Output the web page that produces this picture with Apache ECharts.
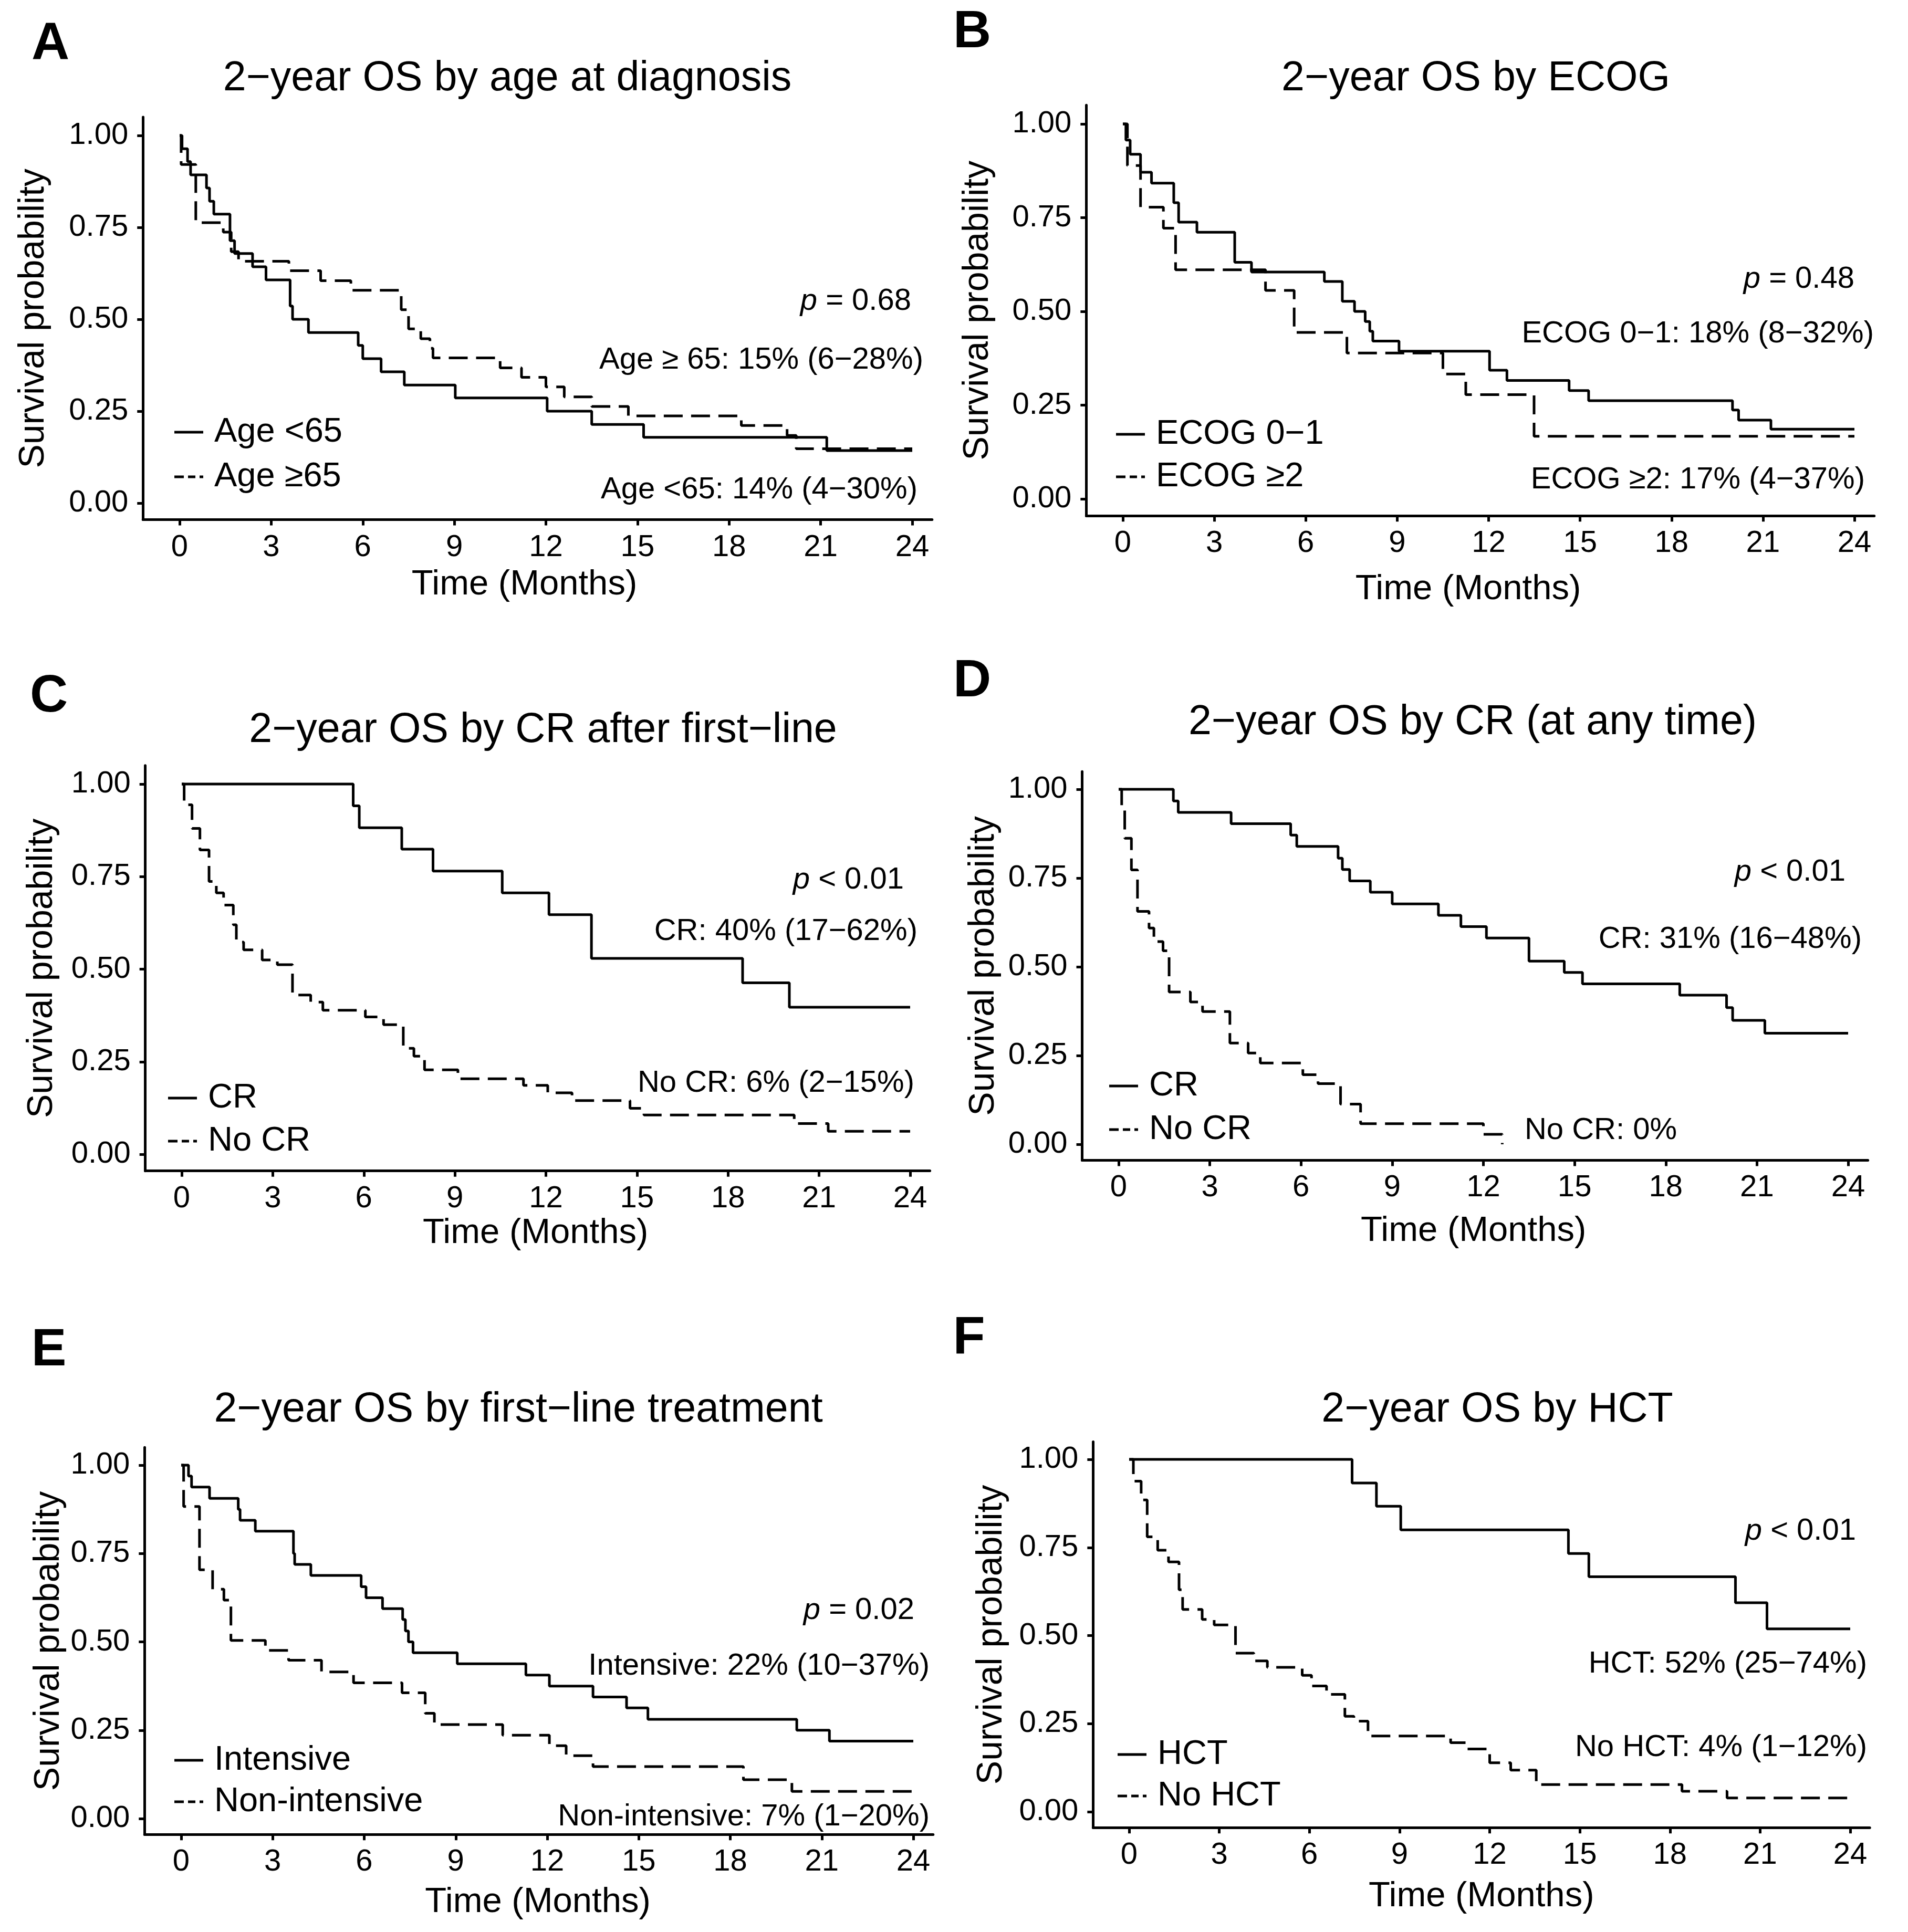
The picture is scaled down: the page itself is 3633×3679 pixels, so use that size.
<!DOCTYPE html>
<html lang="en">
<head>
    <meta charset="UTF-8">
    <title>2-year OS</title>
    <script src="https://cdn.jsdelivr.net/npm/echarts@6/dist/echarts.min.js"></script>
    <style>
        html, body { margin: 0; padding: 0; background: #fff; }
        #main { width: 3633px; height: 3679px; }
    </style>
</head>
<body>
<div id="main"></div>
<script type="text/javascript">
    // ticks
    var xTicks = [0, 3, 6, 9, 12, 15, 18, 21, 24];
    var yTicks = [0, 0.25, 0.5, 0.75, 1];

    // A - age at diagnosis
    var ageLt65Time = [0, 0.08, 0.26, 0.36, 0.88, 0.98, 1.12, 1.65, 1.8, 2.39, 2.83, 3.62, 3.7, 4.22, 5.85, 6.0, 6.6, 7.36, 9.03, 12.04, 13.5, 15.2, 21.2, 24];
    var ageLt65Surv = [1, 0.964, 0.929, 0.893, 0.857, 0.821, 0.786, 0.714, 0.679, 0.643, 0.607, 0.536, 0.5, 0.464, 0.429, 0.393, 0.357, 0.321, 0.286, 0.25, 0.214, 0.179, 0.143, 0.143];
    var ageGe65Time = [0, 0.05, 0.53, 1.43, 1.69, 1.93, 3.58, 4.62, 5.61, 7.26, 7.5, 7.9, 8.2, 8.3, 10.5, 11.2, 12.0, 12.6, 13.5, 14.7, 18.4, 19.9, 20.2, 24];
    var ageGe65Surv = [1, 0.921, 0.763, 0.737, 0.684, 0.658, 0.632, 0.605, 0.579, 0.526, 0.474, 0.447, 0.421, 0.395, 0.368, 0.342, 0.316, 0.289, 0.263, 0.237, 0.211, 0.184, 0.148, 0.148];

    // B - ECOG
    var ecog01Time = [0, 0.1, 0.24, 0.58, 0.94, 1.67, 1.83, 2.43, 3.67, 4.22, 6.61, 7.2, 7.6, 7.95, 8.1, 8.2, 9.06, 12.03, 12.6, 14.64, 15.28, 20.0, 20.2, 21.26, 24];
    var ecog01Surv = [1, 0.957, 0.919, 0.871, 0.842, 0.79, 0.738, 0.711, 0.631, 0.605, 0.58, 0.527, 0.5, 0.473, 0.447, 0.421, 0.394, 0.343, 0.316, 0.289, 0.262, 0.237, 0.21, 0.186, 0.186];
    var ecog2Time = [0, 0.15, 0.58, 1.33, 1.73, 4.68, 5.62, 7.35, 10.5, 11.25, 13.49, 24];
    var ecog2Surv = [1, 0.889, 0.778, 0.722, 0.611, 0.556, 0.444, 0.389, 0.333, 0.278, 0.167, 0.167];

    // C - CR after first-line
    var cr1Time = [0, 5.65, 5.85, 7.25, 8.28, 10.56, 12.1, 13.5, 18.48, 20.02, 24];
    var cr1Surv = [1, 0.941, 0.882, 0.824, 0.765, 0.706, 0.647, 0.529, 0.463, 0.397, 0.397];
    var noCr1Time = [0, 0.08, 0.34, 0.6, 0.9, 1.14, 1.38, 1.7, 1.8, 2.04, 2.65, 3.15, 3.65, 4.25, 4.65, 6.05, 6.65, 7.3, 7.65, 8.0, 9.1, 11.26, 12.06, 12.86, 14.77, 15.23, 20.18, 21.3, 24];
    var noCr1Surv = [1, 0.944, 0.88, 0.822, 0.737, 0.706, 0.673, 0.62, 0.573, 0.552, 0.525, 0.512, 0.43, 0.411, 0.389, 0.371, 0.35, 0.286, 0.265, 0.228, 0.204, 0.186, 0.166, 0.145, 0.124, 0.106, 0.083, 0.062, 0.062];

    // D - CR at any time
    var crAnyTime = [0, 1.8, 1.96, 3.7, 5.66, 5.86, 7.22, 7.36, 7.6, 8.28, 9.0, 10.52, 11.26, 12.1, 13.5, 14.66, 15.26, 18.46, 20.0, 20.2, 21.26, 24];
    var crAnySurv = [1, 0.967, 0.935, 0.903, 0.871, 0.839, 0.806, 0.774, 0.742, 0.71, 0.677, 0.645, 0.613, 0.581, 0.516, 0.484, 0.452, 0.42, 0.385, 0.349, 0.313, 0.313];
    var noCrAnyTime = [0, 0.1, 0.2, 0.42, 0.62, 1.0, 1.16, 1.46, 1.66, 2.36, 2.76, 3.66, 4.26, 4.66, 6.06, 6.56, 7.3, 7.96, 12.0, 12.62];
    var noCrAnySurv = [1, 0.943, 0.862, 0.773, 0.656, 0.609, 0.571, 0.545, 0.429, 0.401, 0.374, 0.285, 0.257, 0.229, 0.196, 0.171, 0.113, 0.058, 0.028, 0];

    // E - first-line treatment
    var intensTime = [0, 0.24, 0.34, 0.93, 1.87, 1.93, 2.43, 3.68, 3.72, 4.25, 5.9, 6.06, 6.6, 7.26, 7.35, 7.45, 7.6, 9.05, 11.3, 12.07, 13.5, 14.6, 15.3, 20.18, 21.25, 24];
    var intensSurv = [1, 0.969, 0.938, 0.906, 0.875, 0.844, 0.813, 0.75, 0.719, 0.688, 0.656, 0.625, 0.594, 0.563, 0.531, 0.5, 0.469, 0.438, 0.406, 0.375, 0.344, 0.313, 0.281, 0.25, 0.219, 0.219];
    var nonIntTime = [0, 0.08, 0.6, 1.03, 1.4, 1.63, 2.76, 3.52, 4.6, 5.65, 7.24, 8.0, 8.3, 10.54, 12.07, 12.62, 13.5, 18.43, 20.02, 24];
    var nonIntSurv = [1, 0.883, 0.704, 0.649, 0.618, 0.504, 0.476, 0.448, 0.415, 0.384, 0.356, 0.298, 0.266, 0.236, 0.206, 0.178, 0.147, 0.11, 0.077, 0.077];

    // F - HCT
    var hctTime = [0, 7.42, 8.23, 9.04, 14.62, 15.3, 20.18, 21.23, 24];
    var hctSurv = [1, 0.933, 0.867, 0.8, 0.733, 0.667, 0.593, 0.519, 0.519];
    var noHctTime = [0, 0.14, 0.4, 0.6, 0.95, 1.31, 1.66, 1.78, 2.43, 2.83, 3.54, 4.15, 4.6, 5.76, 6.07, 6.57, 7.18, 7.48, 7.95, 10.7, 11.2, 12.0, 12.7, 13.55, 18.4, 19.9, 24];
    var noHctSurv = [1, 0.938, 0.885, 0.78, 0.742, 0.709, 0.63, 0.574, 0.546, 0.53, 0.45, 0.428, 0.41, 0.387, 0.357, 0.333, 0.271, 0.257, 0.215, 0.196, 0.178, 0.139, 0.118, 0.077, 0.058, 0.039, 0.039];

    // texts
    var panelLetters = ['A', 'B', 'C', 'D', 'E', 'F'];
    var panelTitles = ['2\u2212year OS by age at diagnosis', '2\u2212year OS by ECOG', '2\u2212year OS by CR after first\u2212line',
        '2\u2212year OS by CR (at any time)', '2\u2212year OS by first\u2212line treatment', '2\u2212year OS by HCT'];
    var legendNames = [['Age <65', 'Age \u226565'], ['ECOG 0\u22121', 'ECOG \u22652'], ['CR', 'No CR'],
        ['CR', 'No CR'], ['Intensive', 'Non-intensive'], ['HCT', 'No HCT']];
    var pValues = ['= 0.68', '= 0.48', '< 0.01', '< 0.01', '= 0.02', '< 0.01'];
    var noteUpper = ['Age \u2265 65: 15% (6\u221228%)', 'ECOG 0\u22121: 18% (8\u221232%)', 'CR: 40% (17\u221262%)',
        'CR: 31% (16\u221248%)', 'Intensive: 22% (10\u221237%)', 'HCT: 52% (25\u221274%)'];
    var noteLower = ['Age <65: 14% (4\u221230%)', 'ECOG \u22652: 17% (4\u221237%)', 'No CR: 6% (2\u221215%)',
        'No CR: 0%', 'Non-intensive: 7% (1\u221220%)', 'No HCT: 4% (1\u221212%)'];

    var curves = [
        [[ageLt65Time, ageLt65Surv], [ageGe65Time, ageGe65Surv]],
        [[ecog01Time, ecog01Surv], [ecog2Time, ecog2Surv]],
        [[cr1Time, cr1Surv], [noCr1Time, noCr1Surv]],
        [[crAnyTime, crAnySurv], [noCrAnyTime, noCrAnySurv]],
        [[intensTime, intensSurv], [nonIntTime, nonIntSurv]],
        [[hctTime, hctSurv], [noHctTime, noHctSurv]]
    ];

    // layout (pixels): x of t=0, x of t=24, y of 1.00, y of 0.00
    var boxes = [[342, 1737, 258, 958], [2138, 3531, 236, 950], [346, 1733, 1493, 2198],
        [2130, 3519, 1503, 2179], [345, 1739, 2790, 3463], [2150, 3523, 2779, 3450]];
    var yNameDist = [208, 206, 196, 187, 182, 193];
    var xNameDist = [124, 140, 118, 135, 129, 131];
    var xNameShift = [50, 46, 8, 6, 4, 0];
    var titlePos = [[966, 150], [2810, 150], [1034, 1391], [2804, 1376], [987, 2685], [2851, 2685]];
    var letterPos = [[96, 85], [1851, 62], [93, 1327], [1851, 1298], [93, 2572], [1845, 2549]];
    var legendPos = [[327, 818, 85], [2120, 822, 81], [315, 2086, 82], [2107, 2063, 83], [327, 3347, 79], [2123, 3336, 79]];
    var pPos = [[1735, 574], [3531, 532], [1721, 1676], [3514, 1661], [1741, 3067], [3534, 2916]];
    var upperPos = [[1758, 686], [3568, 636], [1747, 1774], [3545, 1789], [1770, 3173], [3555, 3169]];
    var lowerPos = [[1747, 933], [3551, 914], [1741, 2063], [3193, 2153], [1770, 3460], [3555, 3328]];

    var FONT = '"Liberation Sans", Arial, Helvetica, sans-serif';
    var X_MIN = -1.2, X_MAX = 24.65, Y_MIN = -0.045, Y_MAX = 1.05;
    var SOLID_ICON = 'path://M0,0h55v5h-55z';
    var DASH_ICON = 'path://M0,0h18v5h-18z M26,0h14v5h-14z M48,0h7v5h-7z';

    var grids = [], xAxes = [], yAxes = [], series = [], legends = [], graphics = [];

    function pairs(t, s) {
        var out = [];
        for (var n = 0; n < t.length; n++) out.push([t[n], s[n]]);
        return out;
    }

    function txt(str, x, y, font, align, rich) {
        var st = { text: str, x: x, y: y, font: font, fill: '#000', textAlign: align, textVerticalAlign: 'middle' };
        if (rich) st.rich = rich;
        return { type: 'text', silent: true, style: st };
    }

    for (var i = 0; i < 6; i++) {
        var b = boxes[i];
        var u = (b[1] - b[0]) / 24, v = b[3] - b[2];
        // "top" is taken on window, so other names here
        var gLeft = b[0] + X_MIN * u, gRight = b[1] + (X_MAX - 24) * u;
        var gTop = b[2] - (Y_MAX - 1) * v, gBottom = b[3] - Y_MIN * v;
        grids.push({ left: gLeft, top: gTop, width: gRight - gLeft, height: gBottom - gTop });

        xAxes.push({
            gridIndex: i, type: 'value', min: X_MIN, max: X_MAX,
            name: 'Time (Months)', nameLocation: 'middle', nameGap: xNameDist[i] - 33,
            nameTextStyle: { fontSize: 67, fontFamily: FONT, color: '#000', padding: [0, xNameShift[i], 0, 0] },
            axisLine: { onZero: false, lineStyle: { color: '#000', width: 5 } },
            axisTick: { customValues: xTicks, length: 11, lineStyle: { color: '#000', width: 5 } },
            axisLabel: { customValues: xTicks, fontSize: 58, fontFamily: FONT, color: '#000', margin: 24 },
            splitLine: { show: false }
        });
        yAxes.push({
            gridIndex: i, type: 'value', min: Y_MIN, max: Y_MAX,
            name: 'Survival probability', nameLocation: 'middle', nameGap: yNameDist[i] - 34, nameRotate: 90,
            nameTextStyle: { fontSize: 68, fontFamily: FONT, color: '#000' },
            axisLine: { show: true, onZero: false, lineStyle: { color: '#000', width: 5 } },
            axisTick: { show: true, customValues: yTicks, length: 11, lineStyle: { color: '#000', width: 5 } },
            axisLabel: { customValues: yTicks, fontSize: 58, fontFamily: FONT, color: '#000', margin: 28,
                formatter: function (val) { return Number(val).toFixed(2); } },
            splitLine: { show: false }
        });

        for (var j = 0; j < 2; j++) {
            series.push({
                name: legendNames[i][j], type: 'line', step: 'end', symbol: 'none',
                xAxisIndex: i, yAxisIndex: i,
                data: pairs(curves[i][j][0], curves[i][j][1]),
                lineStyle: { color: '#000', width: 5, type: j === 0 ? 'solid' : [36, 16] },
                itemStyle: { color: '#000' }
            });
        }

        var lp = legendPos[i];
        legends.push({
            data: [{ name: legendNames[i][0], icon: SOLID_ICON }, { name: legendNames[i][1], icon: DASH_ICON }],
            orient: 'vertical', left: lp[0], top: lp[1] - 35,
            itemWidth: 55, itemHeight: 5, itemGap: lp[2] - 70, selectedMode: false, symbolKeepAspect: false,
            itemStyle: { color: '#000', borderWidth: 0 },
            textStyle: { fontSize: 65, fontFamily: FONT, color: '#000', lineHeight: 70, padding: [0, 0, 0, 16] }
        });

        graphics.push(txt(panelLetters[i], letterPos[i][0], letterPos[i][1], 'bold 100px ' + FONT, 'center'));
        graphics.push(txt(panelTitles[i], titlePos[i][0], titlePos[i][1], '79px ' + FONT, 'center'));
        graphics.push(txt('{i|p} ' + pValues[i], pPos[i][0], pPos[i][1], '58px ' + FONT, 'right',
            { i: { fontStyle: 'italic', fontSize: 58, fontFamily: FONT } }));
        graphics.push(txt(noteUpper[i], upperPos[i][0], upperPos[i][1], '58px ' + FONT, 'right'));
        graphics.push(txt(noteLower[i], lowerPos[i][0], lowerPos[i][1], '58px ' + FONT, 'right'));
    }

    var chart = echarts.init(document.getElementById('main'), null, { width: 3633, height: 3679 });
    chart.setOption({
        backgroundColor: '#fff',
        animation: false,
        grid: grids,
        xAxis: xAxes,
        yAxis: yAxes,
        legend: legends,
        series: series,
        graphic: graphics
    });
</script>
</body>
</html>
